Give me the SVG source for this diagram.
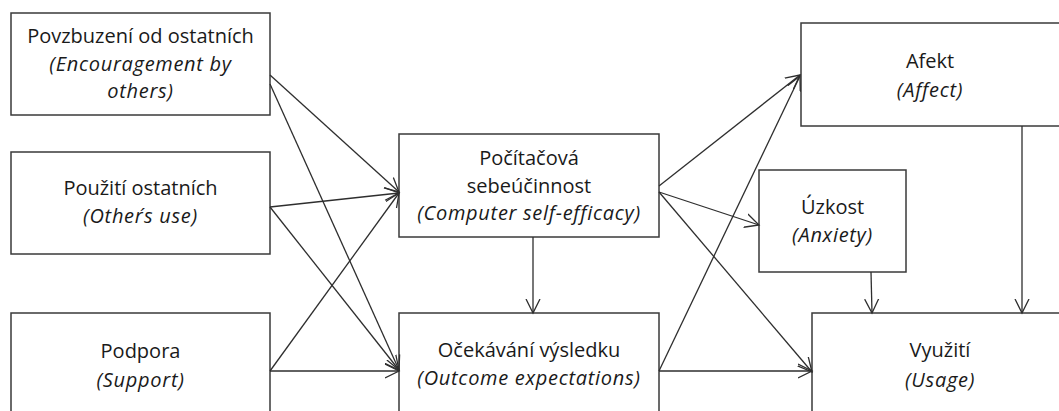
<svg xmlns="http://www.w3.org/2000/svg" width="1059" height="411" viewBox="0 0 1059 411">
  <defs>
    <style>
      .box { fill: #ffffff; stroke: #3a3a3a; stroke-width: 1.5; }
      .edge { fill: none; stroke: #2e2e2e; stroke-width: 1.3; }
      text { font-family: "Open Sans", "Noto Sans", "DejaVu Sans", sans-serif; font-size: 20px; fill: #1a1a1a; text-anchor: middle; }
      .it { font-style: italic; letter-spacing: 0.7px; }
    </style>
    <marker id="arrow" markerUnits="userSpaceOnUse" markerWidth="16" markerHeight="16" viewBox="0 0 16 16" refX="14" refY="8" orient="auto">
      <path d="M0,1 L14,8 L0,15" fill="none" stroke="#2e2e2e" stroke-width="1.3"/>
    </marker>
  </defs>
  <rect width="1059" height="411" fill="#ffffff"/>

  <!-- nodes -->
  <g id="encouragement">
    <rect class="box" x="11" y="13" width="259" height="102"/>
    <text x="140.5" y="43">Povzbuzení od ostatních</text>
    <text class="it" x="140.5" y="71">(Encouragement by</text>
    <text class="it" x="140.5" y="98">others)</text>
  </g>
  <g id="others-use">
    <rect class="box" x="11" y="152" width="259" height="102"/>
    <text x="140.5" y="195">Použití ostatních</text>
    <text class="it" x="140.5" y="223">(Other´s use)</text>
  </g>
  <g id="support">
    <rect class="box" x="11" y="313" width="259" height="110"/>
    <text x="140.5" y="358">Podpora</text>
    <text class="it" x="140.5" y="387">(Support)</text>
  </g>
  <g id="self-efficacy">
    <rect class="box" x="399" y="134" width="260" height="103"/>
    <text x="529" y="165">Počítačová</text>
    <text x="529" y="193">sebeúčinnost</text>
    <text class="it" x="529" y="220">(Computer self-efficacy)</text>
  </g>
  <g id="outcome">
    <rect class="box" x="399" y="313" width="260" height="110"/>
    <text x="529" y="357">Očekávání výsledku</text>
    <text class="it" x="529" y="385">(Outcome expectations)</text>
  </g>
  <g id="affect">
    <rect class="box" x="801" y="23" width="270" height="103"/>
    <text x="930" y="68">Afekt</text>
    <text class="it" x="930" y="97">(Affect)</text>
  </g>
  <g id="anxiety">
    <rect class="box" x="759" y="170" width="147" height="102"/>
    <text x="832.5" y="214">Úzkost</text>
    <text class="it" x="832.5" y="242">(Anxiety)</text>
  </g>
  <g id="usage">
    <rect class="box" x="812" y="313" width="260" height="110"/>
    <text x="940" y="357">Využití</text>
    <text class="it" x="940" y="387">(Usage)</text>
  </g>

  <!-- connectors -->
  <g id="connectors" class="edge" marker-end="url(#arrow)">
    <line x1="270" y1="75" x2="399" y2="192"/>
    <line x1="270" y1="84" x2="399" y2="370"/>
    <line x1="270" y1="207" x2="399" y2="193"/>
    <line x1="270" y1="207" x2="399" y2="370"/>
    <line x1="270" y1="371" x2="399" y2="193"/>
    <line x1="270" y1="371" x2="399" y2="371"/>
    <line x1="533" y1="237" x2="533" y2="313"/>
    <line x1="659" y1="186" x2="800" y2="75"/>
    <line x1="659" y1="192" x2="759" y2="225"/>
    <line x1="659" y1="192" x2="812" y2="372"/>
    <line x1="659" y1="371" x2="800" y2="76"/>
    <line x1="659" y1="371" x2="812" y2="371"/>
    <line x1="871" y1="272" x2="872" y2="313"/>
    <line x1="1022" y1="126" x2="1022" y2="313"/>
  </g>
</svg>
